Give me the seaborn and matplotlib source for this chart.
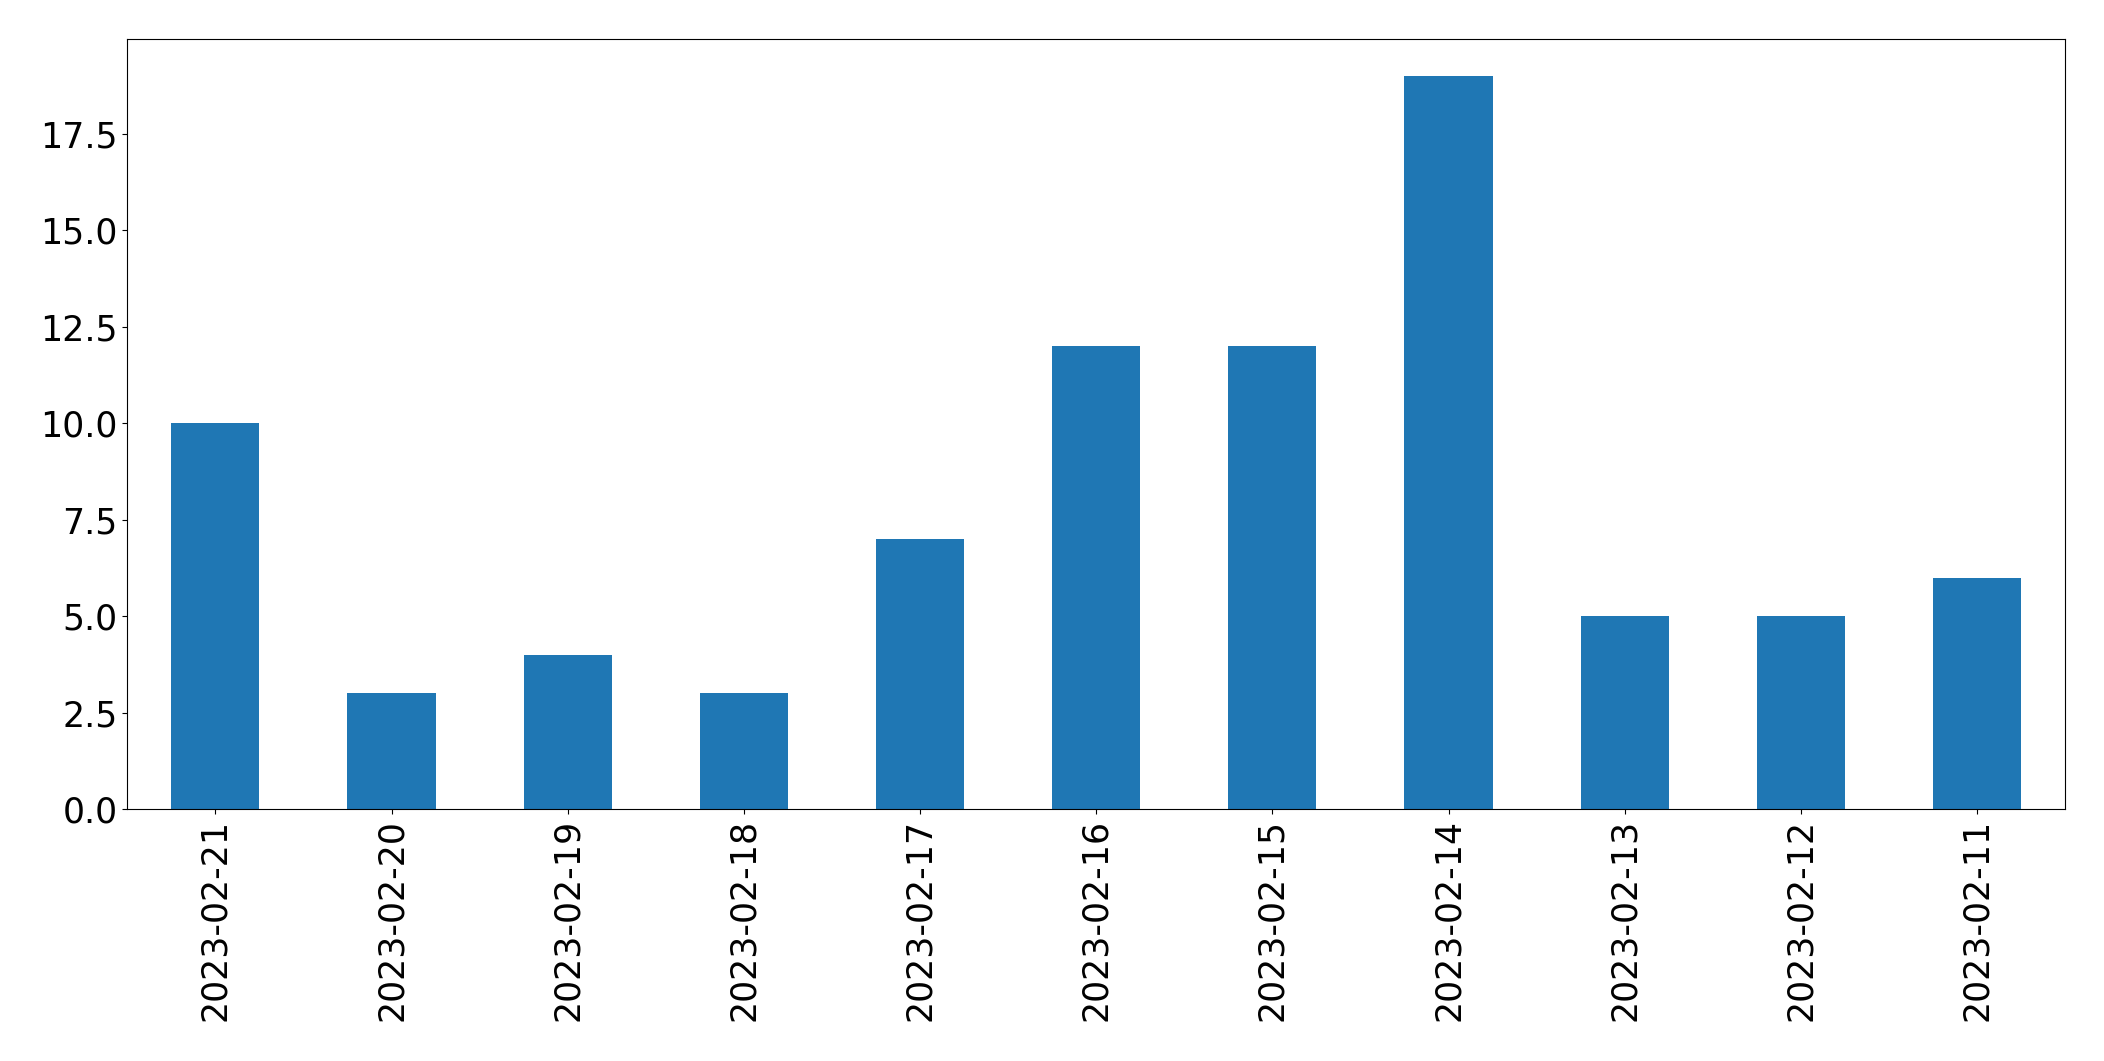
import numpy as np
import pandas as pd
import matplotlib
matplotlib.use("Agg")
import matplotlib.pyplot as plt
import seaborn as sns

# daily counts, newest first
dates = ['2023-02-21', '2023-02-20', '2023-02-19', '2023-02-18', '2023-02-17',
         '2023-02-16', '2023-02-15', '2023-02-14', '2023-02-13', '2023-02-12',
         '2023-02-11']
counts = [10, 3, 4, 3, 7, 12, 12, 19, 5, 5, 6]

df = pd.DataFrame({'date': dates, 'count': counts})

fig, ax = plt.subplots(figsize=(21.04, 10.61), dpi=100)
fig.subplots_adjust(left=0.0605, right=0.9815, top=0.963, bottom=0.2375)

sns.barplot(data=df, x='date', y='count', order=dates, color='#1f77b4',
            width=0.5, saturation=1, linewidth=0, ax=ax)

ax.set_xlim(-0.5, len(dates) - 0.5)
ax.set_ylim(0, max(counts) * 1.05)
ax.set_xlabel('')
ax.set_ylabel('')
ax.tick_params(axis='both', labelsize=25)
ax.tick_params(axis='x', labelrotation=90)

plt.savefig('out.png', dpi=100)
